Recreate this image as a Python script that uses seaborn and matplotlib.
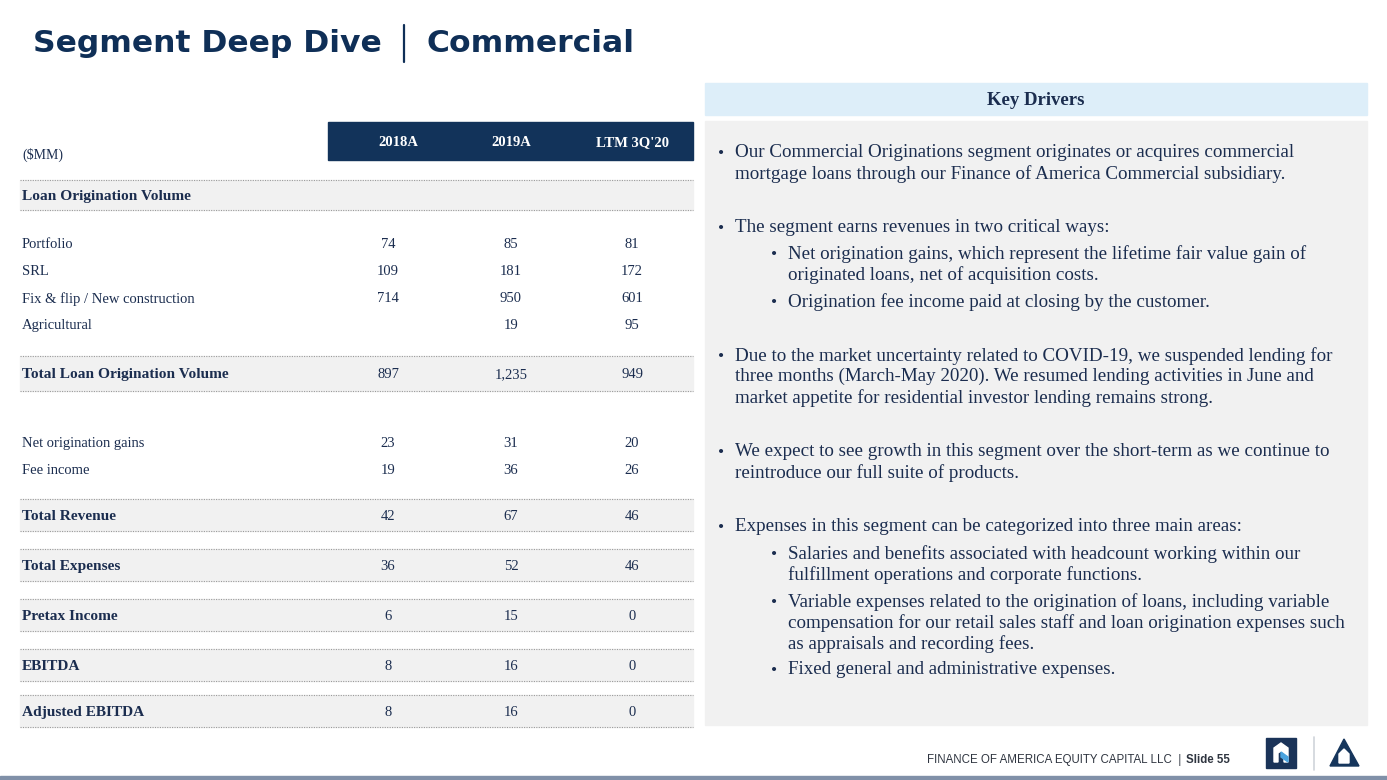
import matplotlib
matplotlib.use("Agg")
import matplotlib.pyplot as plt
from matplotlib.patches import Rectangle, Polygon
import seaborn as sns

# ---- table data ($MM) ----
columns = ["2018A", "2019A", "LTM 3Q'20"]
row_labels = ["Loan Origination Volume", "Portfolio", "SRL", "Fix & flip / New construction",
              "Agricultural", "Total Loan Origination Volume", "Net origination gains",
              "Fee income", "Total Revenue", "Total Expenses", "Pretax Income", "EBITDA",
              "Adjusted EBITDA"]
row_kind = ["section", "item", "item", "item", "item", "total", "item", "item",
            "total", "total", "total", "total", "total"]
vals_2018 = [None, 74, 109, 714, None, 897, 23, 19, 42, 36, 6, 8, 8]
vals_2019 = [None, 85, 181, 950, 19, 1235, 31, 36, 67, 52, 15, 16, 16]
vals_ltm = [None, 81, 172, 601, 95, 949, 20, 26, 46, 46, 0, 0, 0]

# ---- key drivers text: (indent level, lines) ----
drivers = [
    (0, ["Our Commercial Originations segment originates or acquires commercial",
         "mortgage loans through our Finance of America Commercial subsidiary."]),
    (0, ["The segment earns revenues in two critical ways:"]),
    (1, ["Net origination gains, which represent the lifetime fair value gain of",
         "originated loans, net of acquisition costs."]),
    (1, ["Origination fee income paid at closing by the customer."]),
    (0, ["Due to the market uncertainty related to COVID-19, we suspended lending for",
         "three months (March-May 2020). We resumed lending activities in June and",
         "market appetite for residential investor lending remains strong."]),
    (0, ["We expect to see growth in this segment over the short-term as we continue to",
         "reintroduce our full suite of products."]),
    (0, ["Expenses in this segment can be categorized into three main areas:"]),
    (1, ["Salaries and benefits associated with headcount working within our",
         "fulfillment operations and corporate functions."]),
    (1, ["Variable expenses related to the origination of loans, including variable",
         "compensation for our retail sales staff and loan origination expenses such",
         "as appraisals and recording fees."]),
    (1, ["Fixed general and administrative expenses."]),
]

# ---- layout (pixels) ----
row_y = [195, 243, 270, 297, 324, 373, 442, 469, 515, 565, 615, 665, 711]
col_x = [388, 511, 632]
head_x = [398, 511, 632]
driver_y = [151, 226, 252, 300, 354, 450, 525, 552, 600, 668]
line_gap = 21
TXT_DY = 1.8  # va="center" sits slightly high for these fonts

NAVY = "#12335a"
TXT = "#1b2d4f"
GREY_BAND = "#f1f1f1"
SERIF = ["Liberation Serif", "DejaVu Serif"]

sns.set_style("white")
plt.rcParams["font.family"] = ["DejaVu Sans"]

fig = plt.figure(figsize=(13.87, 7.80), dpi=100)
ax = fig.add_axes([0, 0, 1, 1])
ax.set_xlim(0, 1387)
ax.set_ylim(780, 0)
ax.axis("off")

# title
ax.text(33, 43, "Segment Deep Dive", fontsize=22.6, fontweight="bold", color="#0f2f57",
        va="center", ha="left")
ax.plot([404, 404], [25, 62], color="#0f2f57", lw=1.6)
ax.text(427, 43, "Commercial", fontsize=22.6, fontweight="bold", color="#0f2f57",
        va="center", ha="left")

# table header
ax.add_patch(Rectangle((328, 122), 365, 38, color=NAVY, zorder=1))
for x, c in zip(head_x, columns):
    ax.text(x, 141 + TXT_DY, c, color="white", fontsize=10.5, fontweight="bold", family=SERIF,
            ha="center", va="center", zorder=2)
ax.text(22, 153 + TXT_DY, "($MM)", color=TXT, fontsize=10, family=SERIF, va="center")


def dotted(y):
    ax.plot([20, 693], [y, y], color="#9a9a9a", lw=0.8, ls=(0, (1, 1.2)), zorder=2)


def fmt(v):
    return "" if v is None else f"{v:,}"


for i, lab in enumerate(row_labels):
    y = row_y[i]
    kind = row_kind[i]
    if kind != "item":
        half = 16 if kind == "total" else 15
        if lab == "Total Loan Origination Volume":
            half = 17.5
        ax.add_patch(Rectangle((20, y - half), 673, 2 * half, color=GREY_BAND, zorder=1))
        dotted(y - half)
        dotted(y + half)
    bold = kind != "item"
    ax.text(22, y + TXT_DY, lab, color=TXT, fontsize=11.1 if bold else 10.5,
            fontweight="bold" if bold else "normal", family=SERIF,
            va="center", ha="left", zorder=3)
    for x, vals in zip(col_x, [vals_2018, vals_2019, vals_ltm]):
        ax.text(x, y + TXT_DY, fmt(vals[i]), color=TXT, fontsize=10.5, family=SERIF,
                va="center", ha="center", zorder=3)

# key drivers panel
ax.add_patch(Rectangle((705, 83), 662, 32, color="#ddeef9", zorder=1))
ax.text(1036, 99 + TXT_DY, "Key Drivers", color=TXT, fontsize=13.5, fontweight="bold",
        family=SERIF, ha="center", va="center", zorder=2)
ax.add_patch(Rectangle((705, 121), 662, 604, color=GREY_BAND, zorder=1))

for (lvl, lines), y0 in zip(drivers, driver_y):
    bx = 718 if lvl == 0 else 771
    tx = 735 if lvl == 0 else 788
    ax.text(bx, y0 + 3.2, "\u2022", color=TXT, fontsize=12.5, family=SERIF,
            va="center", zorder=2)
    for k, line in enumerate(lines):
        ax.text(tx, y0 + k * line_gap + TXT_DY, line, color=TXT, fontsize=13.7, family=SERIF,
                va="center", ha="left", zorder=2)

# footer
bold_t = ax.text(1230, 760, "Slide 55", fontsize=8.3, fontweight="bold", color="#2f3540",
                 family=["Liberation Sans", "DejaVu Sans"], ha="right", va="center")
fig.canvas.draw()
bb = bold_t.get_window_extent(renderer=fig.canvas.get_renderer())
ax.text(1230 - bb.width - 2, 760, "FINANCE OF AMERICA EQUITY CAPITAL LLC  | ", fontsize=8.3,
        color="#2f3540", family=["Liberation Sans", "DejaVu Sans"], ha="right", va="center")

# logos
ax.add_patch(Rectangle((1266, 738), 30, 30, color="#1a3358", zorder=2))
ax.add_patch(Polygon([(1274, 762), (1274, 748), (1281, 743), (1288, 748), (1288, 762),
                      (1284, 762), (1284, 753), (1281, 751), (1278, 753), (1278, 762)],
                     closed=True, color="white", zorder=3))
ax.add_patch(Polygon([(1281, 752), (1288, 757), (1288, 762), (1281, 757)], closed=True,
                     color="#4aa3df", zorder=4))
ax.plot([1314, 1314], [737, 770], color="#d0d4da", lw=1.2)
ax.add_patch(Polygon([(1344, 739), (1330, 766), (1359, 766)], closed=True,
                     color="#16365c", zorder=2))
ax.add_patch(Polygon([(1339, 763), (1339, 754), (1344, 749), (1349, 754), (1349, 763)],
                     closed=True, color="white", zorder=3))

# bottom rule
ax.add_patch(Rectangle((0, 776), 1387, 4, color="#8090a8", zorder=2))

fig.savefig("out.png", dpi=100)
